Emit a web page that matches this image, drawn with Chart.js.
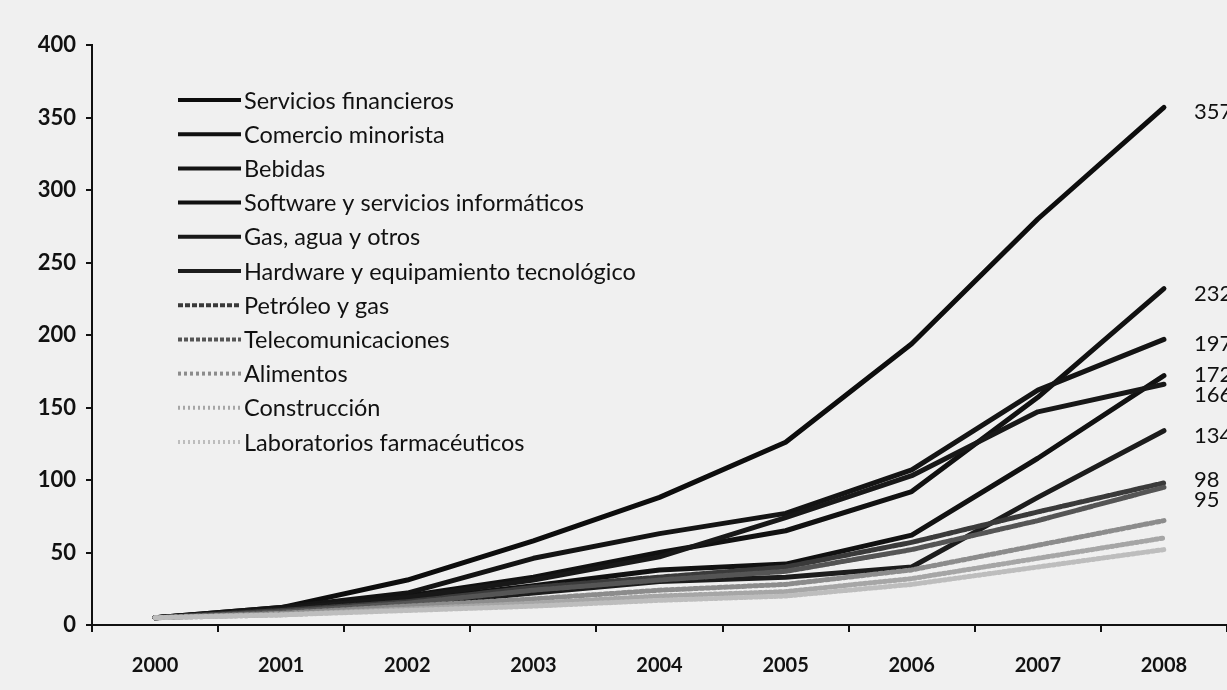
<!DOCTYPE html>
<html lang="es">
<head>
<meta charset="utf-8">
<title>Evolución por sector 2000-2008</title>
<script src="https://cdn.jsdelivr.net/npm/chart.js@4.4.1/dist/chart.umd.min.js"></script>
<style>
  html, body { margin: 0; padding: 0; background: #f0f0f0; }
  #wrap { width: 1227px; height: 690px; }
</style>
</head>
<body>
<div id="wrap"><canvas id="sectorChart" width="1227" height="690"></canvas></div>
<script>
// años del eje horizontal
const years = ['2000', '2001', '2002', '2003', '2004', '2005', '2006', '2007', '2008'];

// índice por sector (base ~5 en 2000)
const serviciosFinancieros = [5, 12, 31, 58, 88, 126, 194, 280, 357];
const comercioMinorista    = [5, 11, 20, 33, 50, 65, 92, 157, 232];
const bebidas              = [5, 12, 22, 46, 63, 77, 107, 162, 197];
const software             = [5, 10, 17, 27, 38, 42, 62, 115, 172];
const gasAgua              = [5, 11, 19, 31, 47, 74, 103, 147, 166];
const hardware             = [5, 9, 14, 22, 30, 33, 40, 88, 134];
const petroleo             = [5, 10, 16, 26, 33, 40, 57, 78, 98];
const telecom              = [5, 9, 15, 24, 31, 37, 52, 72, 95];
const alimentos            = [5, 8, 13, 18, 24, 28, 38, 55, 72];
const construccion         = [5, 7, 11, 15, 20, 23, 32, 46, 60];
const laboratorios         = [5, 7, 10, 13, 17, 20, 28, 40, 52];

const sectorNames = [
  'Servicios financieros', 'Comercio minorista', 'Bebidas',
  'Software y servicios informáticos', 'Gas, agua y otros',
  'Hardware y equipamiento tecnológico', 'Petróleo y gas',
  'Telecomunicaciones', 'Alimentos', 'Construcción', 'Laboratorios farmacéuticos'
];
const sectorValues = [
  serviciosFinancieros, comercioMinorista, bebidas, software, gasAgua,
  hardware, petroleo, telecom, alimentos, construccion, laboratorios
];
// only the first eight get a value printed at the end of the line
const labelledCount = 8;

const lineColors = ['#0d0d0d', '#111111', '#141414', '#111111', '#181818', '#1c1c1c',
                    '#3a3a3a', '#555555', '#8c8c8c', '#a6a6a6', '#bdbdbd'];
const lineDashes = [[], [], [], [], [], [], [5, 2], [4, 2], [3, 3], [2, 3], [2, 3]];

const FONT = 'Lato, "Open Sans", sans-serif';
const INK = '#111111';

const datasets = sectorNames.map((name, i) => ({
  label: name,
  data: sectorValues[i],
  borderColor: lineColors[i],
  borderDash: lineDashes[i],
  borderWidth: 5,
  endLabel: i < labelledCount
})).reverse(); // draw the darkest lines last so they sit on top

const paperBg = {
  id: 'paperBg',
  beforeDraw(chart) {
    const ctx = chart.ctx;
    ctx.save();
    ctx.fillStyle = '#f0f0f0';
    ctx.fillRect(0, 0, chart.width, chart.height);
    ctx.restore();
  }
};

// legend block in the upper left of the plot
const sideLegend = {
  id: 'sideLegend',
  afterDraw(chart) {
    const ctx = chart.ctx;
    const items = chart.data.datasets.slice().reverse();
    ctx.save();
    items.forEach((ds, i) => {
      const y = 100 + i * 34.2;
      ctx.strokeStyle = ds.borderColor;
      ctx.lineWidth = 4;
      ctx.setLineDash(ds.borderDash || []);
      ctx.beginPath();
      ctx.moveTo(178, y);
      ctx.lineTo(241, y);
      ctx.stroke();
      ctx.setLineDash([]);
      ctx.fillStyle = INK;
      ctx.font = '23.5px ' + FONT;
      ctx.textBaseline = 'middle';
      ctx.fillText(ds.label, 244, y + 1);
    });
    ctx.restore();
  }
};

// final values written to the right of each line
const endLabels = {
  id: 'endLabels',
  afterDatasetsDraw(chart) {
    const xs = chart.scales.x, ys = chart.scales.y;
    const items = [];
    chart.data.datasets.forEach(ds => {
      if (!ds.endLabel) return;
      const v = ds.data[ds.data.length - 1];
      items.push({ text: String(v), y: ys.getPixelForValue(v) + 5 });
    });
    items.sort((a, b) => a.y - b.y);
    const gap = 20;
    for (let k = 1; k < items.length; k++) {
      if (items[k].y - items[k - 1].y < gap) {
        const mid = (items[k].y + items[k - 1].y) / 2;
        items[k - 1].y = mid - gap / 2;
        items[k].y = mid + gap / 2;
      }
    }
    const x = xs.getPixelForValue(years.length - 1) + 30;
    const ctx = chart.ctx;
    ctx.save();
    ctx.fillStyle = INK;
    ctx.font = '22px ' + FONT;
    ctx.textBaseline = 'middle';
    items.forEach(it => ctx.fillText(it.text, x, it.y));
    ctx.restore();
  }
};

new Chart(document.getElementById('sectorChart').getContext('2d'), {
  type: 'line',
  data: { labels: years, datasets: datasets },
  options: {
    responsive: false,
    animation: false,
    layout: { padding: { top: 45, right: 0, bottom: 0, left: 0 } },
    elements: {
      point: { radius: 0 },
      line: { tension: 0, borderCapStyle: 'round', borderJoinStyle: 'round' }
    },
    plugins: {
      legend: { display: false },
      tooltip: { enabled: false }
    },
    scales: {
      x: {
        offset: true,
        grid: { offset: true, drawOnChartArea: false, tickLength: 7, color: INK, lineWidth: 2 },
        border: { color: INK, width: 2 },
        ticks: { color: INK, padding: 22, font: { family: FONT, size: 20, weight: 'bold' } },
        afterFit(scale) { scale.height = 65; }
      },
      y: {
        min: 0,
        max: 400,
        grid: { drawOnChartArea: false, tickLength: 6, color: INK, lineWidth: 2 },
        border: { color: INK, width: 2 },
        ticks: { stepSize: 50, color: INK, padding: 10, font: { family: FONT, size: 22, weight: 'bold' } },
        afterFit(scale) { scale.width = 92; }
      }
    }
  },
  plugins: [paperBg, sideLegend, endLabels]
});
</script>
</body>
</html>
